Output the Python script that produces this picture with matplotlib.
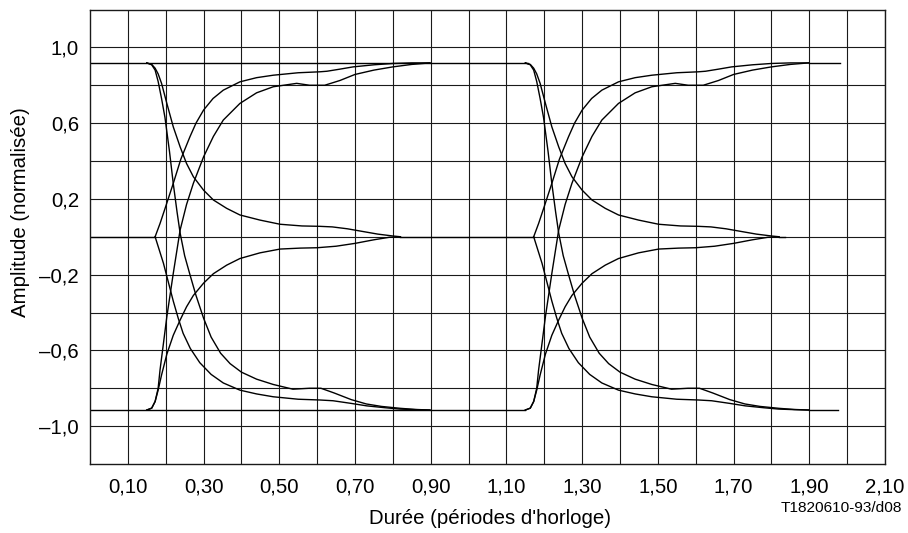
import numpy as np
import matplotlib
matplotlib.use('Agg')
import matplotlib.pyplot as plt

plt.rcParams['font.family'] = ['Liberation Sans', 'DejaVu Sans']

# niveaux stables (normalises)
top_level = 0.918
bottom_level = -0.915

# transitions, temps relatif a la premiere periode
hi_to_mid_x = [0.150, 0.163, 0.172, 0.180, 0.189, 0.203, 0.220, 0.238, 0.255, 0.273, 0.300, 0.326,
               0.361, 0.396, 0.449, 0.502, 0.560, 0.607, 0.640, 0.680, 0.720, 0.760, 0.800, 0.820]
hi_to_mid_y = [0.918, 0.910, 0.890, 0.860, 0.810, 0.704, 0.580, 0.475, 0.387, 0.317, 0.246, 0.194,
               0.150, 0.115, 0.088, 0.066, 0.057, 0.055, 0.052, 0.042, 0.028, 0.014, 0.004, 0.000]

hi_to_lo_x = [0.150, 0.163, 0.172, 0.180, 0.189, 0.198, 0.210, 0.220, 0.230, 0.238, 0.250, 0.264,
              0.280, 0.300, 0.320, 0.345, 0.370, 0.400, 0.440, 0.484, 0.536, 0.580, 0.610, 0.645,
              0.690, 0.730, 0.770, 0.820, 0.860, 0.898]
hi_to_lo_y = [0.918, 0.908, 0.880, 0.820, 0.730, 0.630, 0.450, 0.280, 0.130, 0.020, -0.100, -0.200,
              -0.310, -0.430, -0.530, -0.615, -0.670, -0.715, -0.752, -0.780, -0.805, -0.800, -0.800,
              -0.825, -0.860, -0.883, -0.896, -0.906, -0.912, -0.915]

mid_to_lo_x = [0.172, 0.183, 0.194, 0.207, 0.220, 0.233, 0.246, 0.265, 0.290, 0.320, 0.352, 0.396,
               0.440, 0.484, 0.550, 0.607, 0.642, 0.690, 0.731, 0.780, 0.819, 0.860, 0.898]
mid_to_lo_y = [0.000, -0.070, -0.140, -0.240, -0.340, -0.430, -0.510, -0.590, -0.665, -0.727, -0.772,
               -0.810, -0.830, -0.845, -0.858, -0.862, -0.866, -0.880, -0.893, -0.903, -0.910,
               -0.913, -0.915]

mid_to_hi_x = [0.172, 0.185, 0.200, 0.220, 0.240, 0.264, 0.280, 0.300, 0.325, 0.352, 0.396, 0.440,
               0.484, 0.550, 0.607, 0.626, 0.660, 0.695, 0.750, 0.800, 0.850, 0.898]
mid_to_hi_y = [0.000, 0.070, 0.160, 0.282, 0.410, 0.528, 0.600, 0.669, 0.730, 0.774, 0.818, 0.840,
               0.853, 0.866, 0.871, 0.874, 0.885, 0.897, 0.908, 0.915, 0.918, 0.918]

lo_to_hi_x = [0.150, 0.163, 0.172, 0.180, 0.185, 0.194, 0.203, 0.220, 0.238, 0.255, 0.273, 0.300,
              0.326, 0.352, 0.396, 0.440, 0.484, 0.546, 0.580, 0.620, 0.660, 0.700, 0.750, 0.800,
              0.850, 0.898]
lo_to_hi_y = [-0.915, -0.905, -0.870, -0.800, -0.703, -0.563, -0.422, -0.193, 0.035, 0.170, 0.282,
              0.422, 0.530, 0.616, 0.704, 0.760, 0.792, 0.810, 0.800, 0.800, 0.825, 0.857, 0.880,
              0.897, 0.910, 0.918]

lo_to_mid_x = [0.150, 0.163, 0.172, 0.180, 0.189, 0.203, 0.220, 0.238, 0.255, 0.273, 0.300, 0.326,
               0.361, 0.396, 0.449, 0.502, 0.555, 0.600, 0.650, 0.700, 0.750, 0.790, 0.820]
lo_to_mid_y = [-0.915, -0.905, -0.870, -0.810, -0.730, -0.620, -0.520, -0.440, -0.370, -0.310,
               -0.245, -0.195, -0.150, -0.115, -0.085, -0.065, -0.060, -0.058, -0.050, -0.035,
               -0.016, -0.003, 0.000]

period_offsets = [0.0, 1.0]

# segments plats (x debut, x fin, niveau)
flat_segments = [
    (0.0, 1.157, top_level),
    (0.0, 0.172, 0.0),
    (0.82, 1.172, 0.0),
    (0.0, 1.150, bottom_level),
    (1.898, 1.980, top_level),
    (1.820, 1.835, 0.0),
    (1.898, 1.975, bottom_level),
]

x_tick_vals = [0.1, 0.3, 0.5, 0.7, 0.9, 1.1, 1.3, 1.5, 1.7, 1.9, 2.1]
x_tick_labels = ['0,10', '0,30', '0,50', '0,70', '0,90', '1,10', '1,30', '1,50', '1,70', '1,90', '2,10']
y_tick_vals = [-1.0, -0.6, -0.2, 0.2, 0.6, 1.0]
y_tick_labels = ['\u20131,0', '\u20130,6', '\u20130,2', '0,2', '0,6', '1,0']

fig = plt.figure(figsize=(9.08, 5.33), dpi=100)
ax = fig.add_axes([90 / 908, 1 - 464 / 533, 795 / 908, 454.5 / 533])

curves = [(hi_to_mid_x, hi_to_mid_y), (hi_to_lo_x, hi_to_lo_y),
          (mid_to_lo_x, mid_to_lo_y), (mid_to_hi_x, mid_to_hi_y),
          (lo_to_hi_x, lo_to_hi_y), (lo_to_mid_x, lo_to_mid_y)]

for off in period_offsets:
    for cx, cy in curves:
        ax.plot(np.array(cx) + off, cy, color='black', lw=1.0, solid_joinstyle='round')

for x0, x1, lvl in flat_segments:
    ax.plot([x0, x1], [lvl, lvl], color='black', lw=1.0)

ax.set_xlim(0, 2.1)
ax.set_ylim(-1.2, 1.2)

ax.set_xticks(x_tick_vals)
ax.set_xticklabels(x_tick_labels)
ax.set_xticks(np.arange(0.2, 2.01, 0.2), minor=True)
ax.set_yticks(y_tick_vals)
ax.set_yticklabels(y_tick_labels)
ax.set_yticks([-0.8, -0.4, 0.0, 0.4, 0.8], minor=True)
ax.tick_params(which='both', length=0)
ax.tick_params(axis='x', pad=10, labelsize=14.7)
ax.tick_params(axis='y', pad=8, labelsize=14.7)
ax.grid(True, which='both', color='#1a1a1a', lw=0.8)
ax.set_axisbelow(True)
for s in ax.spines.values():
    s.set_linewidth(1.0)
    s.set_color('#1a1a1a')

ax.set_xlabel("Durée (périodes d'horloge)", fontsize=14.7)
ax.xaxis.label.set_va('center')
ax.xaxis.set_label_coords(0.5035, (464 - 518) / 454.5)
ax.set_ylabel('Amplitude (normalisée)', fontsize=14.7)
ax.yaxis.label.set_va('center')
ax.yaxis.set_label_coords((21 - 90) / 795, (464 - 212) / 454.5)

fig.text(902 / 908, 1 - 508 / 533, 'T1820610-93/d08', fontsize=11.1, ha='right', va='center')

fig.savefig('out.png', dpi=100)
